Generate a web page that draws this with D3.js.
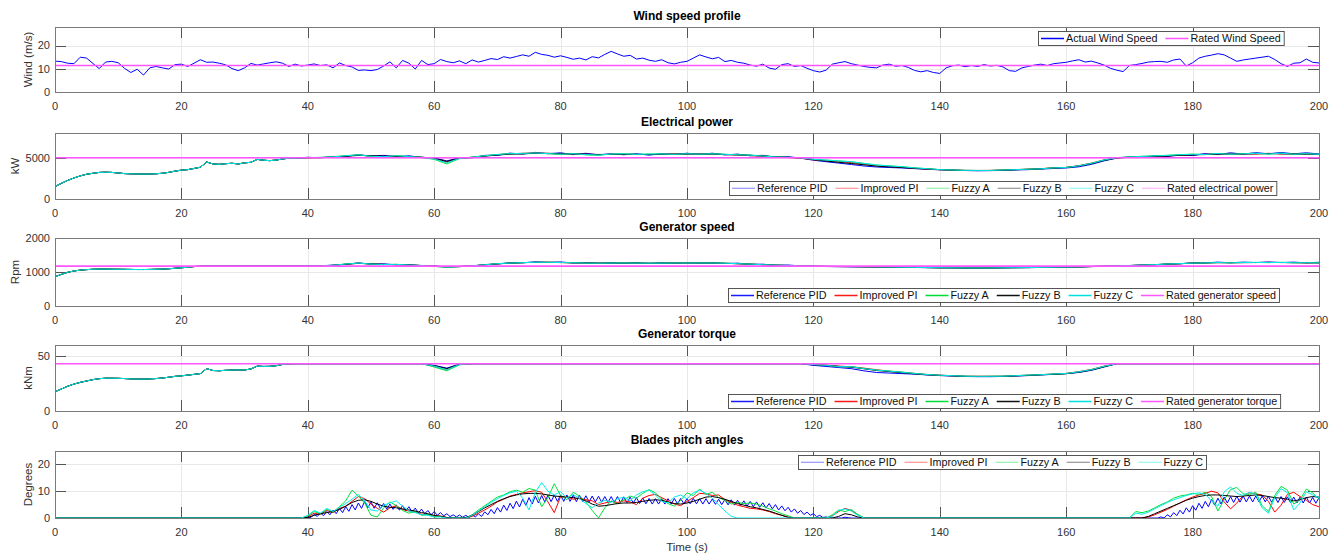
<!DOCTYPE html>
<html><head><meta charset="utf-8">
<script src="https://cdn.jsdelivr.net/npm/d3@7"></script>
<style>
body{margin:0;background:#fff}
text{font-family:Arial,"Liberation Sans",Helvetica,sans-serif}
</style>
</head><body>
<svg id="chart" width="1341" height="555"></svg>
<script>
// ---------------- DATA ----------------
const xTicks = [0,20,40,60,80,100,120,140,160,180,200];
const seriesNames = ["Reference PID","Improved PI","Fuzzy A","Fuzzy B","Fuzzy C"];
const seriesColors = ["#0000ff","#ff0000","#00e23c","#000000","#00eeee"];
const ratedColor = "#ff55ff";

const ratedWind = 11.4;        // m/s
const ratedPower = 5000;       // kW
const ratedSpeed = 1173.7;     // rpm
const ratedTorque = 43;        // kNm

// wind speed, 1 s steps, 0..200 s
const windSpeed = [
13.3,13.1,12.4,12.2,15.0,14.6,12.3,10.1,12.9,13.2,
12.6,10.2,8.4,9.8,7.3,10.4,11.0,10.4,9.9,11.8,
12.0,11.0,12.4,13.9,12.8,12.9,12.4,11.7,10.1,9.2,
10.4,12.3,11.6,12.1,12.6,13.0,12.4,11.0,12.0,11.2,
11.6,12.1,11.4,11.7,10.4,12.5,11.4,10.8,9.3,9.5,
9.2,9.7,11.2,13.0,10.4,13.6,12.4,9.9,13.6,11.8,
12.2,14.0,13.1,12.6,13.4,12.2,13.8,12.9,13.6,14.4,
14.0,15.2,14.6,15.3,16.0,15.4,17.1,16.2,15.8,15.0,
15.6,14.9,14.1,14.6,13.8,15.2,14.7,16.2,17.5,16.4,
15.4,15.8,14.2,14.6,13.7,13.2,13.9,12.6,12.1,12.8,
13.2,14.6,16.0,15.1,14.3,14.9,13.1,13.6,12.8,12.4,
11.6,11.1,12.0,10.3,9.8,11.8,12.2,11.0,11.4,10.2,
9.2,8.6,9.4,12.0,12.6,13.1,12.2,11.6,11.0,10.6,
10.4,11.6,12.0,11.1,11.4,10.6,9.3,8.7,9.2,8.4,
8.0,10.4,11.3,11.6,10.9,11.4,11.0,11.8,11.2,11.5,
10.8,9.2,8.9,10.4,11.0,11.6,12.0,11.4,12.2,12.5,
12.8,13.4,13.9,12.9,13.3,12.5,11.6,10.2,9.4,8.8,
11.4,11.8,12.3,12.9,13.1,13.2,12.8,13.8,14.2,11.2,
12.6,14.6,15.4,15.9,16.5,16.0,14.6,13.2,13.8,14.2,
14.6,15.0,15.4,14.0,12.2,11.0,12.4,12.6,14.2,12.8,
12.5];

// start-up part common to all controllers, 1 s steps, 0..37 s
const powerStart = [1500,1900,2250,2550,2800,3000,3120,3220,3250,3220,3150,3080,3050,3030,3020,3030,3060,3120,3230,3380,
3500,3560,3700,3850,4480,4250,4200,4280,4330,4250,4380,4450,4800,4700,4650,4720,4850,4950];
const speedStart = [860,930,990,1030,1055,1070,1080,1085,1085,1082,1080,1078,1075,1073,1073,1075,1080,1085,1095,1110,
1125,1140,1160,1170,1174,1174,1174,1174,1174,1174,1174,1174,1174,1174,1174,1174,1174,1174];
const torqueStart = [17.5,20,22.5,24.5,26,27.3,28.5,29.4,29.8,29.8,29.7,29.5,29.2,29,29,29.2,29.5,30,30.7,31.5,
32,32.6,33.3,34,38.5,36.8,36.6,37,37.2,37.4,37.3,38.2,40.8,40.5,40.6,41.2,42.3,42.9];

// electrical power (kW), 2 s steps, 38..200 s
const powerPID = [4950,5060,4990,5160,5150,5380,5190,5290,5110,5240,
5020,4980,4620,5010,4990,5290,5290,5560,5440,5650,
5480,5600,5380,5540,5340,5500,5360,5500,5320,5500,
5390,5550,5390,5550,5340,5440,5240,5290,5060,5130,
4950,4700,4520,4350,4180,4000,3880,3820,3760,3680,
3600,3540,3480,3450,3420,3440,3460,3520,3560,3620,
3700,3760,3900,4200,4620,4950,5120,5060,5250,5150,
5380,5260,5520,5380,5600,5440,5620,5480,5640,5480,
5600,5460];
const powerPI = [4950,4990,5030,5060,5220,5330,5200,5140,5200,5120,
5060,4880,4450,4930,5060,5230,5380,5480,5540,5580,
5520,5420,5480,5420,5380,5420,5450,5380,5400,5430,
5480,5420,5480,5460,5380,5330,5260,5160,5080,5020,
4950,4750,4650,4550,4420,4250,4050,3950,3850,3720,
3620,3540,3500,3470,3460,3470,3520,3570,3620,3680,
3780,3830,4050,4350,4750,5000,5050,5120,5160,5230,
5320,5380,5420,5480,5420,5480,5450,5540,5460,5470,
5420,5380];
const powerFuzzyA = [4950,5010,5050,5120,5260,5360,5150,5100,5250,5160,
5040,4800,4250,4900,5080,5250,5400,5500,5520,5560,
5500,5400,5500,5350,5300,5450,5480,5420,5450,5460,
5400,5480,5420,5480,5420,5370,5320,5230,5130,5060,
5000,4820,4720,4620,4520,4320,4120,4020,3920,3780,
3680,3560,3520,3470,3460,3460,3510,3560,3610,3660,
3770,3820,4020,4330,4720,5020,5100,5180,5230,5300,
5380,5440,5380,5520,5400,5500,5540,5450,5560,5420,
5500,5420];
const powerFuzzyB = [4950,5000,5020,5070,5180,5280,5250,5200,5170,5140,
5080,4920,4550,4950,5040,5190,5330,5430,5480,5530,
5540,5500,5460,5440,5400,5400,5410,5400,5390,5400,
5440,5450,5450,5440,5400,5350,5300,5210,5110,5050,
4980,4780,4600,4450,4300,4150,3980,3900,3820,3720,
3640,3560,3500,3460,3450,3450,3490,3540,3600,3660,
3760,3820,4000,4280,4680,4980,5040,5100,5150,5200,
5290,5340,5390,5440,5450,5450,5490,5500,5490,5450,
5440,5400];
const powerFuzzyC = [4950,5020,5040,5100,5240,5340,5180,5130,5230,5140,
5060,4850,4380,4920,5070,5240,5390,5490,5530,5570,
5510,5430,5490,5380,5330,5440,5470,5400,5440,5450,
5420,5470,5440,5470,5410,5360,5310,5200,5100,5040,
4990,4800,4710,4610,4510,4310,4110,4010,3910,3770,
3670,3560,3510,3470,3460,3460,3510,3560,3610,3660,
3770,3820,4020,4320,4720,5010,5080,5160,5210,5280,
5360,5420,5400,5500,5420,5480,5530,5460,5540,5430,
5480,5410];

// generator speed (rpm), 2 s steps, 38..200 s
const speedPID = [1174,1180,1178,1205,1225,1270,1230,1240,1210,1220,
1185,1180,1150,1165,1175,1220,1235,1275,1270,1300,
1280,1295,1265,1280,1255,1275,1258,1275,1250,1272,
1260,1280,1260,1278,1250,1260,1225,1230,1198,1205,
1178,1175,1160,1158,1152,1150,1145,1140,1138,1132,
1128,1124,1122,1120,1118,1120,1122,1126,1128,1134,
1138,1146,1148,1162,1168,1185,1188,1210,1212,1240,
1242,1272,1268,1290,1272,1290,1278,1295,1278,1290,
1270,1285];
const speedPI = [1174,1174,1181,1193,1232,1258,1236,1220,1222,1200,
1192,1166,1145,1158,1182,1208,1244,1258,1278,1282,
1288,1276,1272,1262,1262,1256,1265,1258,1258,1256,
1268,1262,1268,1260,1256,1242,1232,1212,1202,1188,
1182,1170,1167,1162,1161,1156,1151,1146,1141,1136,
1131,1126,1126,1121,1121,1121,1126,1129,1131,1136,
1141,1146,1152,1161,1172,1181,1190,1202,1214,1232,
1244,1262,1268,1278,1272,1278,1278,1284,1278,1276,
1270,1268];
const speedFuzzyA = [1174,1176,1183,1198,1236,1262,1232,1218,1226,1206,
1192,1164,1140,1156,1184,1212,1246,1262,1276,1286,
1284,1278,1274,1262,1258,1264,1266,1262,1260,1262,
1264,1268,1266,1266,1258,1246,1232,1216,1202,1192,
1182,1172,1166,1162,1161,1156,1152,1146,1141,1136,
1131,1126,1125,1121,1120,1120,1125,1128,1131,1136,
1141,1146,1151,1161,1171,1182,1192,1204,1218,1234,
1248,1262,1266,1280,1270,1280,1282,1276,1284,1272,
1276,1270];
const speedFuzzyB = [1174,1175,1180,1194,1228,1253,1241,1226,1215,1205,
1190,1171,1152,1160,1179,1209,1239,1259,1274,1284,
1285,1281,1271,1265,1260,1260,1261,1260,1256,1258,
1264,1265,1265,1262,1255,1245,1230,1216,1201,1190,
1180,1169,1163,1158,1157,1153,1148,1143,1139,1134,
1129,1124,1123,1119,1119,1119,1124,1127,1129,1134,
1139,1144,1149,1158,1168,1179,1189,1199,1214,1229,
1244,1259,1269,1274,1275,1275,1279,1280,1279,1275,
1272,1270];
const speedFuzzyC = [1174,1175,1182,1196,1234,1260,1234,1220,1224,1204,
1191,1166,1144,1158,1182,1211,1245,1261,1276,1285,
1285,1279,1273,1263,1259,1262,1264,1261,1259,1260,
1265,1266,1266,1264,1257,1246,1231,1215,1201,1191,
1181,1171,1166,1161,1160,1156,1151,1146,1141,1136,
1131,1126,1125,1121,1120,1120,1125,1128,1131,1136,
1141,1146,1151,1161,1171,1181,1191,1203,1217,1233,
1247,1261,1268,1278,1272,1279,1281,1277,1282,1273,
1274,1270];

// generator torque (kNm), 2 s steps, 38..200 s
const torquePID = [43,43,43,43,43,43,43,43,43,43,
43,41.5,39,42.6,43,43,43,43,43,43,
43,43,43,43,43,43,43,43,43,43,
43,43,43,43,43,43,43,43,43,43,
43,41.5,40.5,39.5,38.5,36.5,35,34.5,34,33.5,
32.8,32.2,31.8,31.4,31.2,31.2,31.4,31.8,32.2,32.8,
33.3,34,35,37,40,43,43,43,43,43,
43,43,43,43,43,43,43,43,43,43,
43,43];
const torquePI = [43,43,43,43,43,43,43,43,43,43,
43,40.5,37.5,42.2,43,43,43,43,43,43,
43,43,43,43,43,43,43,43,43,43,
43,43,43,43,43,43,43,43,43,43,
43,42.2,41.8,40.8,40.2,39,37.5,36.2,35.2,34.2,
33.2,32.6,32.1,31.6,31.6,31.6,31.6,32.1,32.6,33.1,
33.6,34.2,35.8,37.8,40.8,43,43,43,43,43,
43,43,43,43,43,43,43,43,43,43,
43,43];
const torqueFuzzyA = [43,43,43,43,43,43,43,43,43,43,
43,40,36.5,42,43,43,43,43,43,43,
43,43,43,43,43,43,43,43,43,43,
43,43,43,43,43,43,43,43,43,43,
43,42.4,41.6,40.2,40.4,38.6,37.2,36.4,35.4,34.2,
33.2,32.4,32.2,31.6,31.4,31.6,31.6,32.2,32.6,33,
33.6,34,35.6,37.6,40.6,43,43,43,43,43,
43,43,43,43,43,43,43,43,43,43,
43,43];
const torqueFuzzyB = [43,43,43,43,43,43,43,43,43,43,
43,41.2,38.5,42.5,43,43,43,43,43,43,
43,43,43,43,43,43,43,43,43,43,
43,43,43,43,43,43,43,43,43,43,
43,42,41.4,40.6,39.8,38.4,36.8,35.8,34.8,33.8,
32.9,32.4,31.9,31.5,31.4,31.4,31.5,31.9,32.4,32.9,
33.4,33.9,35.3,37.3,40.3,43,43,43,43,43,
43,43,43,43,43,43,43,43,43,43,
43,43];
const torqueFuzzyC = [43,43,43,43,43,43,43,43,43,43,
43,40.8,37.5,42.3,43,43,43,43,43,43,
43,43,43,43,43,43,43,43,43,43,
43,43,43,43,43,43,43,43,43,43,
43,42.2,41.5,40.4,40.2,38.5,37.1,36.2,35.2,34.1,
33.1,32.5,32.1,31.6,31.5,31.5,31.6,32.1,32.6,33,
33.6,34.1,35.6,37.6,40.6,43,43,43,43,43,
43,43,43,43,43,43,43,43,43,43,
43,43];

// pitch angles (deg). Reference PID: 0.5 s steps (39..129 s and 171..200 s).
// Other controllers: 1 s steps (39..129 s and 171..200 s). Zero elsewhere.
const pitchPID_A = [
0,0,0.3,0.2,1.4,0.6,1.8,0.9,2.4,1.2,
2.9,1.6,3.6,2,4.2,2.5,5,3,5.6,3.6,
6.2,3.8,6,3.6,5.7,3.5,5.4,3.3,5.2,3.2,
4.9,2.9,4.6,2.6,4.2,2.2,3.7,1.9,3.3,1.6,
2.8,1.2,2.4,1,2,0.8,1.6,0.5,1.2,0.4,
1.1,0.3,1,0.2,1.2,0.4,1.5,0.6,2.3,1.2,
3.2,1.6,3.9,2.2,4.8,2.8,5.5,3.5,6.3,4.1,
7,4.7,7.6,5.2,8.1,5.6,8.4,6,8.5,6.1,
8.6,6.2,8.6,6.2,8.6,6.2,8.5,6.1,8.5,6.1,
8.3,6,8.2,6,8.1,5.9,8,5.8,8,5.8,
8,5.8,7.9,5.7,7.8,5.6,7.6,5.4,7.5,5.3,
7.3,5.2,7.2,5.2,7.2,5.2,7.2,5.2,7.3,5.3,
7.3,5.3,7.3,5.3,7.3,5.3,7.2,5.2,7.2,5.2,
7.1,5.1,7,5,6.9,4.9,6.8,4.8,6.6,4.6,
6.4,4.4,6.2,4.2,6,4,5.7,3.7,5.4,3.4,
5,3,4.5,2.7,4,2.2,3.4,1.8,2.8,1.3,
2.2,1,1.6,0.5,1,0.2,0.4,0,0,0,
0,0,0.3,0.1,0,0,0,0,0,0,
0];
const pitchPID_B = [
0,0,0,0,0,0,0,0,0.4,0,
1.2,0.4,2,0.9,2.9,1.5,3.8,2.2,4.6,2.9,
5.5,3.6,6.2,4.2,6.9,4.8,7.4,5.2,7.8,5.6,
8,5.8,8.1,5.9,8.2,6,8.2,6,8.2,6,
8.2,6,8.1,5.9,8,5.8,8,5.8,7.9,5.7,
7.8,5.6,7.8,5.6,7.8,5.6,7.7,5.5,7.6];
const pitchPI_A = [0,0.5,1.8,1.4,2.8,2,3.6,4.4,6.2,8,
7.2,5.2,3.6,2.2,3.8,4.6,3.2,2.6,2.2,1.4,
1.2,0.6,0.8,0.2,0,0,0,0.6,1.8,3,
4.4,6,7,8.2,8.8,9.4,9.8,10.2,9.6,6,
2,8,7.8,7,7.4,6.8,6.4,5,5.6,6.2,
5.8,6.4,6,5,7.4,8.4,8.8,7.6,6.4,5.2,
4.6,6.2,7.6,9.2,9,8.4,8.6,6.8,5.8,4.8,
4.2,3.6,3.4,3,2.4,1.6,1,0.4,0,0,
0,0,0,0,0.8,2.4,3.6,2.8,1.2,0,
0];
const pitchFuzzyA_A = [0,0.8,2.4,1.6,3.2,2.2,4.2,6.4,10.4,8.2,
5.6,1,0.4,3.8,6,4.6,2.8,1.8,2.4,1,
1.4,0.4,0.6,0,0,0,0,1.2,3,4.6,
6.2,7.8,8.6,9.8,10.4,9.6,11,10.4,4.2,7.6,
12.8,8.4,6.8,9.6,8.2,6,2.8,0,3.8,6.4,
5.2,6.8,8.2,7.4,9.2,10.6,9.4,7,5.4,4.4,
6.6,9.4,8.4,10.8,8.8,9.6,7.6,6.6,5.2,5.8,
5.4,5.6,5.2,4.4,3.4,2.6,1.6,0.8,0,0,
0,0,0,0,1.2,3,2.4,3.2,1.4,0,
0];
const pitchFuzzyB_A = [0,0.2,1,1.6,2,2.4,3.2,4.4,5.8,6.6,
6.8,6.2,5.2,4.4,4,3.8,3.4,3,2.6,2,
1.6,1,0.6,0.2,0,0,0.2,1,2.4,3.8,
5,6.2,7.2,8,8.6,9,9.2,9.2,9,8.6,
8.2,8,7.8,7.6,7.2,6.4,5.2,4.4,4.6,5,
5.4,5.6,5.6,5.8,6.2,6.6,6.8,6.6,6,5.4,
5.2,5.6,6.2,7,7.8,8,7.6,7,6.2,5.4,
4.8,4.2,3.8,3.2,2.6,1.8,1,0.2,0,0,
0,0,0,0,0,0.6,1.6,1.2,0.4,0,
0];
const pitchFuzzyC_A = [0,1,2.8,1.8,3.6,2.4,4,5.4,7,8.8,
6.4,3,2.6,4.8,5.6,6.4,4.4,2.6,2,1.2,
1,0.4,0.4,0,0,0,0,1,2.6,4.2,
5.8,7.2,8.4,9.4,10,7.4,3,9.6,13.2,10,
8.6,9.8,7.4,8.8,7.2,5.4,3.8,5.6,6.6,5.8,
7.2,7.8,6.4,8.6,9.8,10.4,8.6,6.2,5.6,7.8,
8.6,7.2,9.4,10.4,9.2,7.4,5,2.6,0.6,0,
0,0,0,0,0,0,0,0,0,0,
0,0,0,0,0.6,2.8,3.4,2.6,1,0,
0];
const pitchPI_B = [0,0,0.4,1.2,2.2,3.2,4.4,5.6,6.8,7.8,
8.6,9.2,10,9.4,6,3.4,5.6,8.4,9.4,9,
8.6,6.2,2.2,4.8,8.8,9.6,8,6.6,5,4.2];
const pitchFuzzyA_B = [2.4,2,2.6,3.8,5,6,7.4,8.2,8.6,9.2,
8.8,9.6,8,2.6,6.8,10.6,11.4,9,8.8,9.6,
4.6,2.4,8.4,11.8,10.4,5.2,6.8,10.8,9.4,7];
const pitchFuzzyB_B = [0,0,0.6,1.6,2.6,3.6,4.6,5.6,6.6,7.4,
8,8.4,8.6,8.6,8.4,8.2,8,8.2,8.4,8.6,
8.4,8,7.6,7.4,7,6.4,6.8,7.6,8,7.8];
const pitchFuzzyC_B = [1.8,1.4,2.2,3.4,4.6,5.8,6.8,7.6,8.4,9,
9.4,8.8,6.4,4.4,9.8,11.6,9.2,8.4,9.6,8.8,
3.8,1.8,7.6,11,9.4,3,5.6,9.8,8.6,7.6];

// ---------------- LAYOUT ----------------
const X0 = 55, X1 = 1319;
const x = d3.scaleLinear().domain([0,200]).range([X0,X1]);
const timeWind = d3.range(0,201);
const timeStart = d3.range(0,38);
const timeMain = d3.range(38,201,2);
const timePitch = [0].concat(d3.range(39,130),[170],d3.range(171,201));
const timePitchFine = [0].concat(d3.range(78,259).map(i=>i/2),[170],d3.range(342,401).map(i=>i/2));

function zipT(ts, vs){ return ts.map((t,i)=>[t,vs[i]]).filter(d=>d[1]!==undefined); }
const full = (start, rest) => zipT(timeStart.concat(timeMain), start.concat(rest));
const pitch = (a,b) => zipT(timePitch, [0].concat(a,[0],b));

const powerSeries = [powerPID,powerPI,powerFuzzyA,powerFuzzyB,powerFuzzyC].map(s=>full(powerStart,s));
const speedSeries = [speedPID,speedPI,speedFuzzyA,speedFuzzyB,speedFuzzyC].map(s=>full(speedStart,s));
const torqueSeries = [torquePID,torquePI,torqueFuzzyA,torqueFuzzyB,torqueFuzzyC].map(s=>full(torqueStart,s));
const pitchSeries = [zipT(timePitchFine,[0].concat(pitchPID_A,[0],pitchPID_B)),
                     pitch(pitchPI_A,pitchPI_B),pitch(pitchFuzzyA_A,pitchFuzzyA_B),
                     pitch(pitchFuzzyB_A,pitchFuzzyB_B),pitch(pitchFuzzyC_A,pitchFuzzyC_B)];

const legendColors = ["#1a1aff","#ff1a1a","#00dd3a","#111111","#00e0e0"];

const panels = [
 {top:27,bottom:92,ymax:28,yticks:[0,10,20],ylabel:"Wind (m/s)",ylx:28,title:"Wind speed profile",
  lines:[{d:zipT(timeWind,windSpeed),c:"#0000ff"}], rated:ratedWind,
  legend:{x:1038,y:31,faded:false,items:[["Actual Wind Speed","#0000ff"],["Rated Wind Speed",ratedColor]]}},
 {top:133,bottom:199,ymax:8000,yticks:[0,5000],ylabel:"kW",ylx:15,title:"Electrical power",
  lines:powerSeries.map((d,i)=>({d,c:seriesColors[i]})), rated:ratedPower,
  legend:{x:729,y:181,faded:true,items:seriesNames.map((n,i)=>[n,seriesColors[i]]).concat([["Rated electrical power",ratedColor]])}},
 {top:238,bottom:306,ymax:2000,yticks:[0,1000,2000],ylabel:"Rpm",ylx:15,title:"Generator speed",
  lines:speedSeries.map((d,i)=>({d,c:seriesColors[i]})), rated:ratedSpeed,
  legend:{x:728,y:288,faded:false,items:seriesNames.map((n,i)=>[n,legendColors[i]]).concat([["Rated generator speed",ratedColor]])}},
 {top:345,bottom:411,ymax:60,yticks:[0,50],ylabel:"kNm",ylx:28,title:"Generator torque",
  lines:torqueSeries.map((d,i)=>({d,c:seriesColors[i]})), rated:ratedTorque,
  legend:{x:728,y:394,faded:false,items:seriesNames.map((n,i)=>[n,legendColors[i]]).concat([["Rated generator torque",ratedColor]])}},
 {top:451,bottom:518,ymax:25,yticks:[0,10,20],ylabel:"Degrees",ylx:28,title:"Blades pitch angles",
  lines:pitchSeries.map((d,i)=>({d,c:seriesColors[i]})), rated:null,
  legend:{x:798,y:455,faded:true,items:seriesNames.map((n,i)=>[n,seriesColors[i]])}}
];

const svg = d3.select("#chart");
const TICK = 11, axisCol = "#7a7a7a", gridCol = "#e8e8e8", labCol = "#333";

panels.forEach((p,pi)=>{
  const y = d3.scaleLinear().domain([0,p.ymax]).range([p.bottom,p.top]);
  const g = svg.append("g");
  const cid = "clip"+pi;
  svg.append("clipPath").attr("id",cid).append("rect")
     .attr("x",X0).attr("y",p.top).attr("width",X1-X0).attr("height",p.bottom-p.top);

  // grid
  xTicks.filter(t=>t>0&&t<200).forEach(t=>{
    const xx = Math.round(x(t))+0.5;
    g.append("line").attr("x1",xx).attr("x2",xx).attr("y1",p.top).attr("y2",p.bottom).attr("stroke",gridCol);
  });
  p.yticks.filter(t=>t>0&&t<p.ymax).forEach(t=>{
    const yy = Math.round(y(t))+0.5;
    g.append("line").attr("y1",yy).attr("y2",yy).attr("x1",X0).attr("x2",X1).attr("stroke",gridCol);
  });

  // ticks (inside, on all four sides)
  xTicks.forEach(t=>{
    const xx = Math.round(x(t))+0.5;
    g.append("line").attr("x1",xx).attr("x2",xx).attr("y1",p.bottom).attr("y2",p.bottom-TICK).attr("stroke","#555");
    g.append("line").attr("x1",xx).attr("x2",xx).attr("y1",p.top).attr("y2",p.top+TICK).attr("stroke","#555");
  });
  p.yticks.forEach(t=>{
    const yy = Math.round(y(t))+0.5;
    g.append("line").attr("x1",X0).attr("x2",X0+TICK).attr("y1",yy).attr("y2",yy).attr("stroke","#555");
    g.append("line").attr("x1",X1).attr("x2",X1-TICK).attr("y1",yy).attr("y2",yy).attr("stroke","#555");
  });

  // data
  const line = d3.line().x(d=>x(d[0])).y(d=>y(d[1]));
  const dg = g.append("g").attr("clip-path",`url(#${cid})`);
  p.lines.forEach(l=>{
    dg.append("path").attr("d",line(l.d)).attr("fill","none").attr("stroke",l.c).attr("stroke-width",1);
  });
  if(p.rated!==null){
    dg.append("path").attr("d",line([[0,p.rated],[200,p.rated]])).attr("fill","none")
      .attr("stroke",ratedColor).attr("stroke-width",1.6);
  }

  // box
  g.append("rect").attr("x",X0+0.5).attr("y",p.top+0.5).attr("width",X1-X0).attr("height",p.bottom-p.top)
   .attr("fill","none").attr("stroke",axisCol);

  // tick labels
  xTicks.forEach(t=>{
    g.append("text").attr("x",x(t)).attr("y",p.bottom+18).attr("text-anchor","middle")
     .style("font-size","11px").attr("fill",labCol).text(t);
  });
  p.yticks.forEach(t=>{
    g.append("text").attr("x",X0-5).attr("y",y(t)).attr("dy","0.35em").attr("text-anchor","end")
     .style("font-size","11px").attr("fill",labCol).text(t);
  });

  // y label
  g.append("text").attr("transform",`translate(${p.ylx},${(p.top+p.bottom)/2}) rotate(-90)`)
   .attr("dy","0.35em").attr("text-anchor","middle").style("font-size","11.5px").attr("fill",labCol).text(p.ylabel);

  // title
  g.append("text").attr("x",(X0+X1)/2).attr("y",p.top-7).attr("text-anchor","middle")
   .style("font-size","12px").style("font-weight","bold").attr("fill","#000").text(p.title);

  // legend
  const L = p.legend, h = 14, pad = 3, lineLen = 23, gap = 2, itemGap = 8;
  const lg = svg.append("g");
  const rect = lg.append("rect").attr("x",L.x+0.5).attr("y",L.y+0.5).attr("height",h)
     .attr("fill","#fff").attr("stroke","#444").attr("stroke-width",0.9);
  let cx = L.x + pad;
  L.items.forEach(([name,color])=>{
    lg.append("rect").attr("x",cx).attr("y",L.y+h/2-0.25).attr("width",lineLen).attr("height",L.faded?1:1.5)
      .style("fill",color).style("fill-opacity",L.faded?0.5:1);
    cx += lineLen + gap;
    const t = lg.append("text").attr("x",cx).attr("y",L.y+h/2+0.5).attr("dy","0.35em")
      .style("font-size","10.75px").attr("fill","#111").text(name);
    cx += t.node().getComputedTextLength() + itemGap;
  });
  rect.attr("width", cx - itemGap + pad - L.x);
});

svg.append("text").attr("x",(X0+X1)/2).attr("y",551).attr("text-anchor","middle")
  .style("font-size","11.5px").attr("fill",labCol).text("Time (s)");
</script>
</body></html>
